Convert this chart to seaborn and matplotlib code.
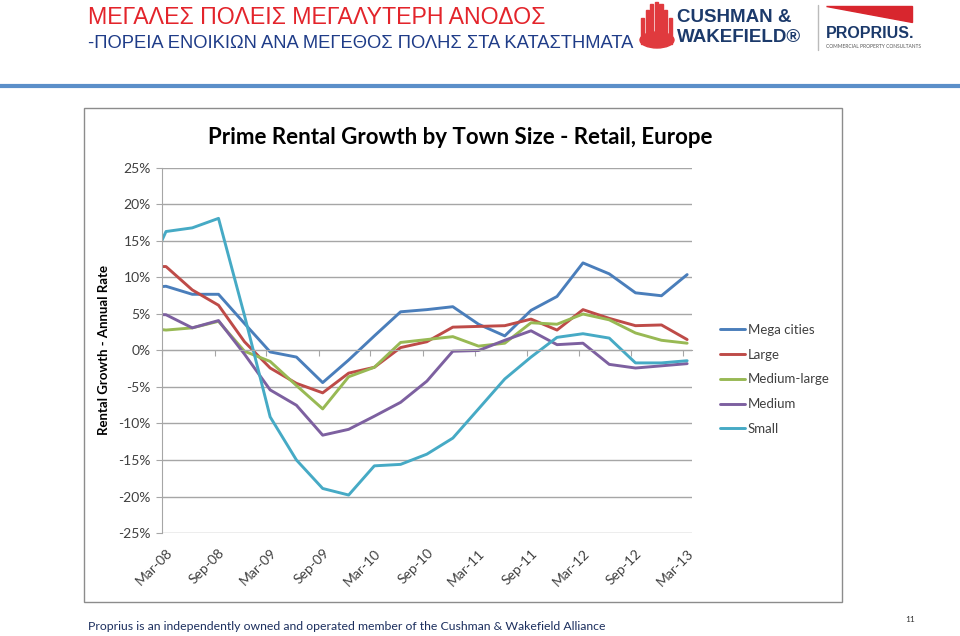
import numpy as np
import pandas as pd
import seaborn as sns
import matplotlib.pyplot as plt
import matplotlib.patches as mpatches
import matplotlib.transforms as mtransforms

# quarterly readings (Dec-07 point is only partly visible at the left edge)
quarters = ["2007-12-15", "2008-03-15", "2008-06-15", "2008-09-15", "2008-12-15",
            "2009-03-15", "2009-06-15", "2009-09-15", "2009-12-15", "2010-03-15",
            "2010-06-15", "2010-09-15", "2010-12-15", "2011-03-15", "2011-06-15",
            "2011-09-15", "2011-12-15", "2012-03-15", "2012-06-15", "2012-09-15",
            "2012-12-15", "2013-03-15"]

mega_cities = [8.5, 8.8, 7.7, 7.7, 3.7, -0.2, -0.9, -4.4, -1.3, 2.0, 5.3, 5.6,
               6.0, 3.6, 2.0, 5.5, 7.4, 12.0, 10.5, 7.9, 7.5, 10.4]
large = [11.5, 11.5, 8.3, 6.2, 1.2, -2.4, -4.5, -5.8, -3.1, -2.3, 0.4, 1.2,
         3.2, 3.3, 3.4, 4.3, 2.8, 5.6, 4.4, 3.4, 3.5, 1.5]
medium_large = [3.2, 2.8, 3.1, 4.0, -0.1, -1.5, -4.8, -8.0, -3.6, -2.3, 1.1, 1.5,
                1.9, 0.6, 1.0, 3.8, 3.6, 5.0, 4.2, 2.4, 1.4, 1.0]
medium = [5.0, 4.9, 3.1, 4.1, -0.5, -5.4, -7.5, -11.6, -10.8, -9.0, -7.1, -4.2,
          -0.1, 0.0, 1.4, 2.7, 0.8, 1.0, -1.9, -2.4, -2.1, -1.8]
small = [8.5, 16.3, 16.8, 18.1, 4.8, -9.1, -15.0, -18.9, -19.8, -15.8, -15.6, -14.2,
         -12.0, -8.0, -3.9, -0.9, 1.8, 2.3, 1.7, -1.7, -1.7, -1.4]

series_names = ["Mega cities", "Large", "Medium-large", "Medium", "Small"]
series_colors = ["#4A7EBB", "#BE4B48", "#98B954", "#7D60A0", "#46AAC5"]
tick_dates = ["2008-03-01", "2008-09-01", "2009-03-01", "2009-09-01", "2010-03-01",
              "2010-09-01", "2011-03-01", "2011-09-01", "2012-03-01", "2012-09-01",
              "2013-03-01"]
tick_labels = ["Mar-08", "Sep-08", "Mar-09", "Sep-09", "Mar-10", "Sep-10",
               "Mar-11", "Sep-11", "Mar-12", "Sep-12", "Mar-13"]
y_ticks = [-25, -20, -15, -10, -5, 0, 5, 10, 15, 20, 25]

df = pd.DataFrame({"date": pd.to_datetime(quarters)})
for name, vals in zip(series_names, [mega_cities, large, medium_large, medium, small]):
    df[name] = vals
long = df.melt(id_vars="date", var_name="Town size", value_name="growth")

sns.set_style("white")
plt.rcParams["font.family"] = ["Lato", "DejaVu Sans"]

fig = plt.figure(figsize=(9.6, 6.36), dpi=100)
ax = fig.add_axes([162 / 960, 1 - 533 / 636, 530 / 960, 365 / 636])

sns.lineplot(data=long, x="date", y="growth", hue="Town size",
             hue_order=series_names, palette=series_colors, linewidth=2.1,
             ax=ax, legend=False)

ax.set_xlim(pd.Timestamp("2008-03-01"), pd.Timestamp("2013-04-01"))
ax.set_ylim(-25, 25)
ax.set_yticks(y_ticks)
ax.set_yticklabels([f"{v}%" for v in y_ticks], color="#404040", fontsize=10)
ax.yaxis.grid(True, color="#A6A6A6", linewidth=1)
ax.tick_params(axis="y", length=4, color="#A6A6A6", left=True, pad=4)
ax.set_xlabel("")
ax.set_ylabel("")

# x axis crosses at 0, labels sit at the bottom
ax.spines["bottom"].set_position(("data", 0))
ax.spines["bottom"].set_color("#A6A6A6")
ax.spines["left"].set_color("#A6A6A6")
ax.spines["top"].set_visible(False)
ax.spines["right"].set_visible(False)
ax.set_xticks(pd.to_datetime(tick_dates))
ax.tick_params(axis="x", length=4, color="#A6A6A6", bottom=True, labelbottom=False)

sec = ax.secondary_xaxis("bottom")
sec.set_xticks(pd.to_datetime(tick_dates))
sec.set_xticklabels(tick_labels, rotation=45, ha="right", rotation_mode="anchor",
                    fontsize=10, color="#404040")
sec.tick_params(length=0, pad=10)
sec.spines["bottom"].set_visible(False)
shift = mtransforms.ScaledTranslation(4 / 100, 0, fig.dpi_scale_trans)
for lab in sec.get_xticklabels():
    lab.set_transform(lab.get_transform() + shift)

handles = [plt.Line2D([], [], color=c, linewidth=2.1) for c in series_colors]
fig.legend(handles, series_names, loc="upper left",
           bbox_to_anchor=(708 / 960, 1 - 312 / 636), frameon=False,
           fontsize=9.5, handlelength=1.9, handletextpad=0.2, labelspacing=0.97,
           labelcolor="#404040")

# chart frame and titles
fig.patches.append(mpatches.Rectangle((84 / 960, 1 - 602 / 636), 758 / 960, 494 / 636,
                                      transform=fig.transFigure, fill=False,
                                      edgecolor="#8C8C8C", linewidth=1))
fig.text(460 / 960, 1 - 137 / 636, "Prime Rental Growth by Town Size - Retail, Europe",
         ha="center", va="center", fontsize=16, fontweight="bold", color="black")
fig.text(104 / 960, 1 - 350 / 636, "Rental Growth - Annual Rate", rotation=90,
         ha="center", va="center", fontsize=9.5, fontweight="bold", color="black")

# slide header
narrow = ["Liberation Sans", "DejaVu Sans"]
fig.text(88 / 960, 1 - 18 / 636, "ΜΕΓΑΛΕΣ ΠΟΛΕΙΣ ΜΕΓΑΛΥΤΕΡΗ ΑΝΟΔΟΣ", family=narrow,
         ha="left", va="center", fontsize=16.7, color="#E3242B")
fig.text(88 / 960, 1 - 44 / 636, "-ΠΟΡΕΙΑ ΕΝΟΙΚΙΩΝ ΑΝΑ ΜΕΓΕΘΟΣ ΠΟΛΗΣ ΣΤΑ ΚΑΤΑΣΤΗΜΑΤΑ",
         family=narrow, ha="left", va="center", fontsize=13.2, color="#1F3C88")
fig.add_artist(plt.Line2D([0, 1], [1 - 86 / 636, 1 - 86 / 636], transform=fig.transFigure,
                          color="#5B8FC9", linewidth=3))

# logos
for i, h in enumerate([26, 34, 40, 42, 40, 34, 26]):
    fig.patches.append(mpatches.Rectangle(((641 + i * 4.6) / 960, 1 - 44 / 636), 3.2 / 960,
                                          h / 636, transform=fig.transFigure,
                                          color="#E03A3E"))
fig.patches.append(mpatches.Ellipse((657 / 960, 1 - 40 / 636), 34 / 960, 16 / 636,
                                    transform=fig.transFigure, color="#E03A3E"))
fig.text(677 / 960, 1 - 18 / 636, "CUSHMAN &", family=narrow, fontweight="bold",
         ha="left", va="center", fontsize=13.5, color="#1C3A6B")
fig.text(677 / 960, 1 - 37 / 636, "WAKEFIELD®", family=narrow, fontweight="bold",
         ha="left", va="center", fontsize=13.5, color="#1C3A6B")
fig.add_artist(plt.Line2D([818 / 960, 818 / 960], [1 - 5 / 636, 1 - 50 / 636],
                          transform=fig.transFigure, color="#BBBBBB", linewidth=1))
fig.patches.append(mpatches.Polygon([(826 / 960, 1 - 6 / 636), (912 / 960, 1 - 6 / 636),
                                     (912 / 960, 1 - 22 / 636)],
                                    transform=fig.transFigure, color="#D8262E"))
fig.text(826 / 960, 1 - 33 / 636, "PROPRIUS.", family=narrow, fontweight="bold",
         ha="left", va="center", fontsize=11.5, color="#1C3A6B")
fig.text(826 / 960, 1 - 46 / 636, "COMMERCIAL PROPERTY CONSULTANTS", ha="left",
         va="center", fontsize=3.5, color="#555555")

# footer
fig.text(88 / 960, 1 - 626 / 636,
         "Proprius is an independently owned and operated member of the Cushman & Wakefield Alliance",
         ha="left", va="center", fontsize=8.8, color="#1C2F5E")
fig.text(910 / 960, 1 - 620 / 636, "11", ha="center", va="center", fontsize=6,
         color="#333333")

fig.savefig("out.png", dpi=100)
